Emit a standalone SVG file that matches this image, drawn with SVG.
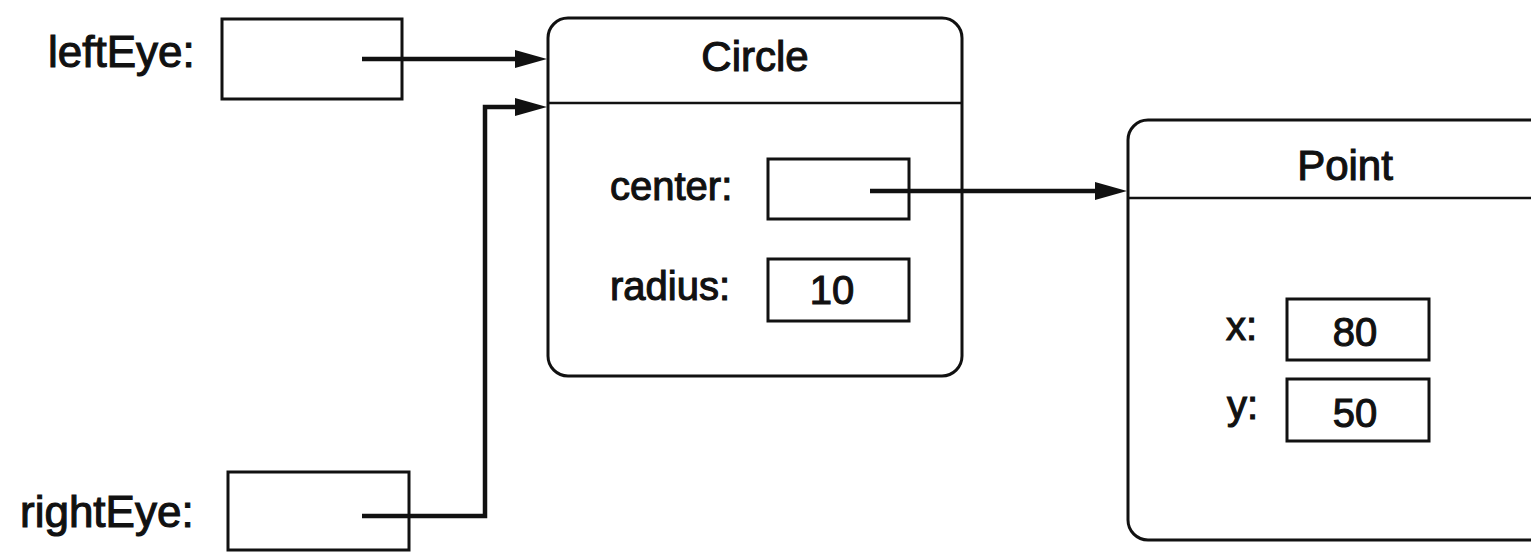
<svg xmlns="http://www.w3.org/2000/svg" width="1531" height="552" viewBox="0 0 1531 552">
<style>
  text { font-family: "Liberation Sans", Arial, sans-serif; fill: #111; stroke: #111; stroke-width: 1.1; }
  .big { font-size: 44px; }
  .lbl { font-size: 40px; }
  .title { font-size: 42px; text-anchor: middle; }
  .val { font-size: 40px; text-anchor: middle; }
  .box { fill: #fff; stroke: #111; stroke-width: 3; }
  .obj { fill: #fff; stroke: #111; stroke-width: 3; }
  .div { stroke: #111; stroke-width: 2.5; fill: none; }
  .conn { fill: none; stroke: #111; stroke-width: 4.5; stroke-linejoin: miter; marker-end: url(#ah); }
</style>
<defs>
  <marker id="ah" viewBox="0 0 32 18" refX="17" refY="9" markerWidth="32" markerHeight="18" markerUnits="userSpaceOnUse" orient="auto">
    <path d="M0,0 L32,9 L0,18 Z" fill="#111"/>
  </marker>
</defs>
<rect width="1531" height="552" fill="#fff"/>

<g id="circle">
  <rect class="obj" x="548" y="18" width="414" height="358" rx="20" ry="20"/>
  <line class="div" x1="548" y1="103" x2="962" y2="103"/>
  <text class="title" x="755" y="71">Circle</text>
</g>

<g id="point">
  <rect class="obj" x="1128" y="120" width="440" height="420" rx="20" ry="20"/>
  <line class="div" x1="1128" y1="198" x2="1531" y2="198"/>
  <text class="title" x="1345" y="180">Point</text>
</g>

<g id="leftEye">
  <text class="big" x="48" y="67">leftEye:</text>
  <rect class="box" x="222" y="19" width="180" height="80"/>
</g>

<g id="rightEye">
  <text class="big" x="20" y="527">rightEye:</text>
  <rect class="box" x="228" y="472" width="181" height="78"/>
</g>

<g id="center">
  <text class="lbl" x="610" y="200">center:</text>
  <rect class="box" x="768" y="159" width="141" height="60"/>
</g>

<g id="radius">
  <text class="lbl" x="610" y="300">radius:</text>
  <rect class="box" x="768" y="259" width="141" height="62"/>
  <text class="val" x="832" y="304">10</text>
</g>

<g id="px">
  <text class="lbl" x="1226" y="340">x:</text>
  <rect class="box" x="1287" y="299" width="142" height="61"/>
  <text class="val" x="1355" y="346">80</text>
</g>

<g id="py">
  <text class="lbl" x="1227" y="419">y:</text>
  <rect class="box" x="1287" y="379" width="142" height="62"/>
  <text class="val" x="1355" y="427">50</text>
</g>

<g id="connectors">
  <path class="conn" d="M362,59 H532"/>
  <path class="conn" d="M362,516 H485 V107 H532"/>
  <path class="conn" d="M870,191 H1112"/>
</g>
</svg>
